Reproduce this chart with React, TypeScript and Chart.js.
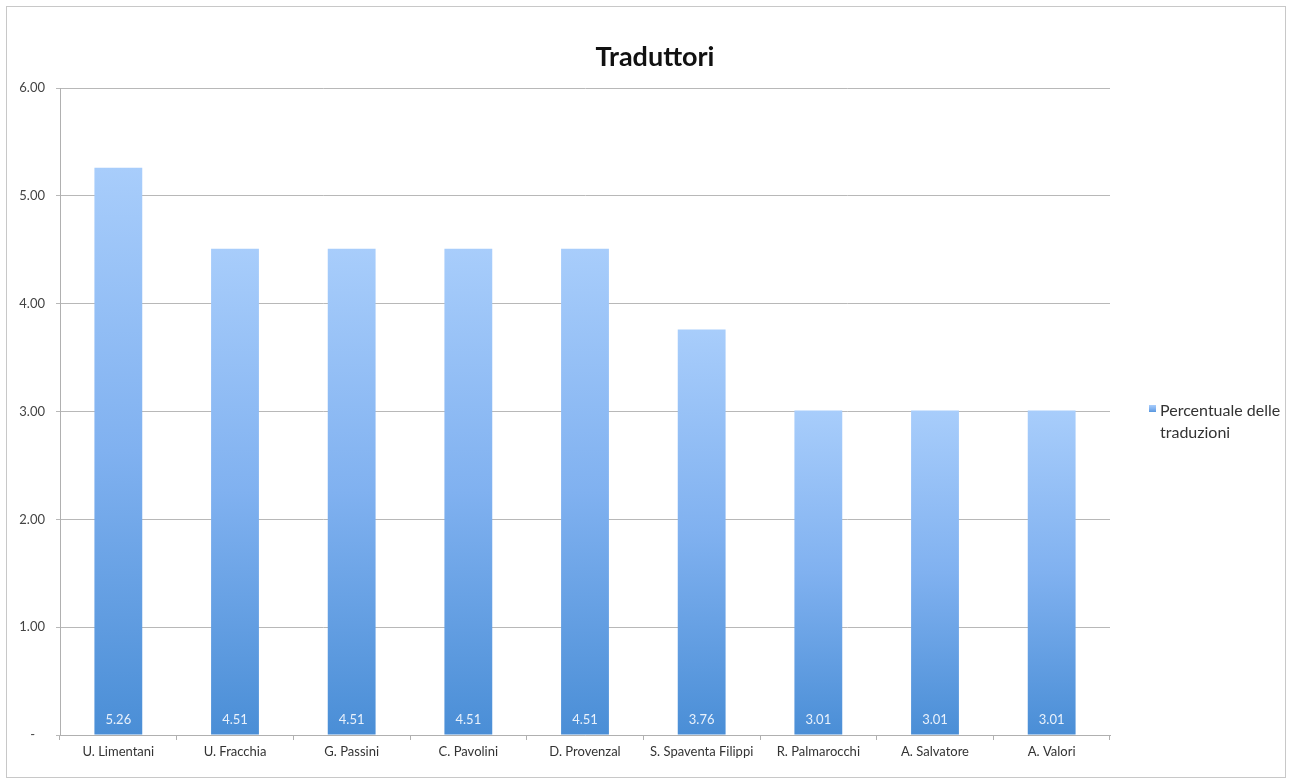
import React, { useEffect, useRef } from "react";
import { Chart, registerables } from "chart.js";

Chart.register(...registerables);

const categories = [
  "U. Limentani",
  "U. Fracchia",
  "G. Passini",
  "C. Pavolini",
  "D. Provenzal",
  "S. Spaventa Filippi",
  "R. Palmarocchi",
  "A. Salvatore",
  "A. Valori",
];
const seriesName = ["Percentuale delle", "traduzioni"];
const values = [5.26, 4.51, 4.51, 4.51, 4.51, 3.76, 3.01, 3.01, 3.01];
const yTickValues = [0, 1, 2, 3, 4, 5, 6];
const titleText = "Traduttori";

const FONT = "Lato, 'Open Sans', sans-serif";
const TOP_COLOR = "#a8cdfb";
const MID_COLOR = "#80b1f0";
const BOTTOM_COLOR = "#4a8ed6";

function barGradient(ctx: CanvasRenderingContext2D, yTop: number, yBottom: number) {
  const g = ctx.createLinearGradient(0, yTop, 0, yBottom);
  g.addColorStop(0, TOP_COLOR);
  g.addColorStop(0.5, MID_COLOR);
  g.addColorStop(1, BOTTOM_COLOR);
  return g;
}

const valueLabelPlugin = {
  id: "valueLabels",
  afterDatasetsDraw(chart: any) {
    const ctx = chart.ctx;
    const meta = chart.getDatasetMeta(0);
    ctx.save();
    ctx.font = `13px ${FONT}`;
    ctx.fillStyle = "#e9f1fb";
    ctx.textAlign = "center";
    ctx.textBaseline = "middle";
    meta.data.forEach((bar: any, i: number) => {
      const base = chart.scales.y.getPixelForValue(0);
      ctx.fillText(values[i].toFixed(2), bar.x, base - 15);
    });
    ctx.restore();
  },
};

const titlePlugin = {
  id: "customTitle",
  afterDraw(chart: any) {
    const ctx = chart.ctx;
    ctx.save();
    ctx.font = `bold 27px ${FONT}`;
    ctx.fillStyle = "#111111";
    ctx.textAlign = "center";
    ctx.textBaseline = "middle";
    ctx.fillText(titleText, 655, 57);
    ctx.restore();
  },
};

const legendPlugin = {
  id: "customLegend",
  afterDraw(chart: any) {
    const ctx = chart.ctx;
    const x = chart.chartArea.right + 39;
    const y = 405;
    ctx.save();
    ctx.fillStyle = barGradient(ctx, y, y + 8);
    ctx.fillRect(x, y, 7, 7);
    ctx.font = `16px ${FONT}`;
    ctx.fillStyle = "#333333";
    ctx.textAlign = "left";
    ctx.textBaseline = "middle";
    seriesName.forEach((line, i) => {
      ctx.fillText(line, x + 11, y + 6 + i * 22);
    });
    ctx.restore();
  },
};

export default function App() {
  const canvasRef = useRef<HTMLCanvasElement | null>(null);

  useEffect(() => {
    if (!canvasRef.current) return;
    const chart = new Chart(canvasRef.current, {
      type: "bar",
      data: {
        labels: categories,
        datasets: [
          {
            label: seriesName.join(" "),
            data: values,
            backgroundColor: (c: any) => {
              const chartObj = c.chart;
              const area = chartObj.chartArea;
              if (!area || c.dataIndex === undefined || !chartObj.scales.y) return MID_COLOR;
              const yScale = chartObj.scales.y;
              const top = yScale.getPixelForValue(values[c.dataIndex]);
              const bottom = yScale.getPixelForValue(0);
              return barGradient(chartObj.ctx, top, bottom);
            },
            borderWidth: 0,
            barPercentage: 0.82,
            categoryPercentage: 0.5,
          },
        ],
      },
      options: {
        animation: false,
        responsive: true,
        maintainAspectRatio: false,
        layout: { padding: { left: 10, right: 183, top: 88, bottom: 15 } },
        plugins: {
          legend: { display: false },
          tooltip: { enabled: false },
          title: { display: false },
        },
        scales: {
          x: {
            grid: {
              display: true,
              drawOnChartArea: false,
              drawTicks: true,
              tickLength: 5,
              color: "#b0b0b0",
            },
            border: { display: true, color: "#b0b0b0", width: 1 },
            ticks: {
              color: "#333333",
              font: { family: FONT, size: 13 },
              padding: 4,
              maxRotation: 0,
              autoSkip: false,
            },
            afterFit: (s: any) => {
              s.height = 30;
            },
          },
          y: {
            min: 0,
            max: 6,
            afterBuildTicks: (s: any) => {
              s.ticks = yTickValues.map((v) => ({ value: v }));
            },
            grid: {
              color: "#b8b8b8",
              drawTicks: true,
              tickLength: 4,
            },
            border: { display: true, color: "#b0b0b0", width: 1 },
            ticks: {
              color: "#444444",
              font: { family: FONT, size: 13 },
              padding: 11,
              callback: (v: any) => (Number(v) === 0 ? "-   " : Number(v).toFixed(2)),
            },
            afterFit: (s: any) => {
              s.width = 50;
            },
          },
        },
      },
      plugins: [valueLabelPlugin, titlePlugin, legendPlugin],
    });
    return () => chart.destroy();
  }, []);

  return (
    <div
      style={{
        position: "fixed",
        left: 0,
        top: 0,
        width: 1293,
        height: 780,
        background: "#ffffff",
      }}
    >
      <div
        style={{
          position: "absolute",
          left: 6,
          top: 6,
          width: 1280,
          height: 772,
          border: "1px solid #c8c8c8",
          boxSizing: "border-box",
          pointerEvents: "none",
        }}
      />
      <div style={{ position: "absolute", left: 0, top: 0, width: 1293, height: 780 }}>
        <canvas ref={canvasRef} />
      </div>
    </div>
  );
}
